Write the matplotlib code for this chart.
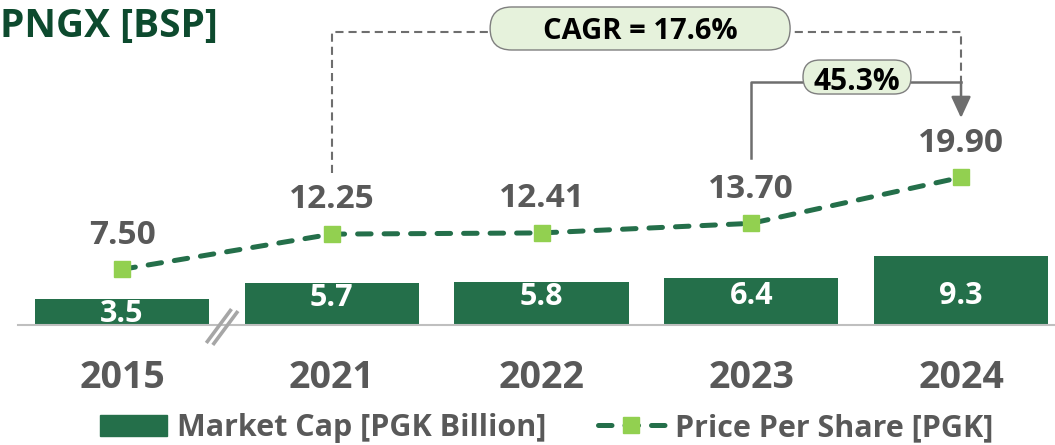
import numpy as np
import matplotlib
matplotlib.use("Agg")
import matplotlib.pyplot as plt
import matplotlib.transforms as mtransforms
from matplotlib.patches import Patch, FancyBboxPatch
from matplotlib.lines import Line2D

# ---------------- data ----------------
years = ["2015", "2021", "2022", "2023", "2024"]
market_cap = [3.5, 5.7, 5.8, 6.4, 9.3]          # PGK billion
price_per_share = [7.50, 12.25, 12.41, 13.70, 19.90]  # PGK
cagr_text = "CAGR = 17.6%"
growth_text = "45.3%"
title_text = "PNGX [BSP]"
legend_labels = ["Market Cap [PGK Billion]", "Price Per Share [PGK]"]

# ---------------- style ----------------
plt.rcParams["font.family"] = ["Open Sans", "DejaVu Sans"]
BAR = "#246F4A"
LIGHT = "#92D050"
GRAY = "#595959"
LINEGRAY = "#6E6E6E"
TITLE = "#0D4A2E"
PILL = "#E6F2DC"

W, H = 1055, 445
fig = plt.figure(figsize=(W / 100, H / 100), dpi=100)
ax = fig.add_axes([18 / W, 120 / H, 1 - 18 / W, 325 / H])
ax.patch.set_visible(False)

x = np.arange(len(years))
ax.bar(x, market_cap, width=0.83, color=BAR, zorder=2)
ax.plot(x, price_per_share, color=BAR, lw=3.6, ls=(0, (2.7, 2.6)),
        dash_capstyle="round", marker="s", ms=11, mfc=LIGHT, mec=LIGHT,
        zorder=4)

ax.set_xlim(-0.496, 4.448)
ax.set_ylim(0, 43.8)
ax.set_xticks([])
ax.set_yticks([])
for s in ["top", "right", "left"]:
    ax.spines[s].set_visible(False)
ax.spines["bottom"].set_color("#BFBFBF")
ax.spines["bottom"].set_linewidth(1.5)

# value labels for price
for i, v in enumerate(price_per_share):
    ax.annotate(f"{v:.2f}", (i, v), xytext=(0, 18.5), textcoords="offset points",
                ha="center", va="baseline", fontsize=24, fontweight="bold",
                color=GRAY, zorder=5)

# value labels inside bars
for i, v in enumerate(market_cap):
    ax.text(i, min(v, 5.95) - 3.1, f"{v:.1f}", ha="center", va="baseline",
            fontsize=22, fontweight="bold", color="white", zorder=3)

# year labels
for i, yr in enumerate(years):
    ax.annotate(yr, (i, 0), xytext=(0, -45.4), textcoords="offset points",
                ha="center", va="baseline", fontsize=27, fontweight="bold",
                color=GRAY, annotation_clip=False)

# axis break mark between 2015 and 2021
brk = fig.dpi_scale_trans + mtransforms.ScaledTranslation(0.476, 0, ax.transData)
for (x0, y0, x1, y1) in [(-14.5, -16.5, 8.5, 14.5), (-8.0, -18.5, 15.0, 12.5)]:
    ax.add_line(Line2D([x0 / 100, x1 / 100], [y0 / 100, y1 / 100],
                       transform=brk, color="#A6A6A6", lw=2.6,
                       clip_on=False, zorder=6))

# CAGR bracket (dashed) and growth bracket (solid with arrow)
ax.plot([1, 1, 4, 4], [20.5, 39.49, 39.49, 32.75], color=LINEGRAY, lw=1.5,
        ls=(0, (3.9, 2.4)), zorder=1, clip_on=False)
ax.plot([3, 3, 4], [22.5, 32.75, 32.75], color=LINEGRAY, lw=1.8,
        zorder=1, clip_on=False)
ax.annotate("", xy=(4, 27.9), xytext=(4, 32.75),
            arrowprops=dict(arrowstyle="-|>,head_length=1.3,head_width=0.6",
                            color=LINEGRAY, lw=1.8, shrinkA=0, shrinkB=0))


def pill(xc, yc, w_px, h_px, text, fs, base_off_px):
    tr = fig.dpi_scale_trans + mtransforms.ScaledTranslation(xc, yc, ax.transData)
    w, h = w_px / 100, h_px / 100
    p = FancyBboxPatch((-w / 2, -h / 2), w, h,
                       boxstyle=f"round,pad=0,rounding_size={h / 2}",
                       transform=tr, fc=PILL, ec="#7F7F7F", lw=1.0,
                       clip_on=False, zorder=7)
    ax.add_artist(p)
    ax.annotate(text, (xc, yc), xytext=(0, -base_off_px * 0.72),
                textcoords="offset points", ha="center", va="baseline",
                fontsize=fs, fontweight="bold", color="black", zorder=8,
                annotation_clip=False)


pill(2.47, 39.96, 300, 43, cagr_text, 21, 10.5)
pill(3.504, 33.42, 108, 34, growth_text, 21.5, 12.5)

# title
fig.text(0.0, 1 - 37 / H, title_text, ha="left", va="baseline", fontsize=28,
         fontweight="bold", color=TITLE)

# legend
handles = [
    Patch(facecolor=BAR, edgecolor=BAR),
    Line2D([], [], color=BAR, lw=3.6, ls=(0, (2.7, 2.6)), dash_capstyle="round",
           marker="s", ms=11, mfc=LIGHT, mec=LIGHT),
]
leg = fig.legend(handles, legend_labels, ncol=2, loc="center",
                 bbox_to_anchor=(546.5 / W, 17 / H), frameon=False,
                 prop={"size": 22, "weight": "bold"}, labelcolor=GRAY,
                 handlelength=2.18, handletextpad=0.33, columnspacing=1.7,
                 borderpad=0, numpoints=1)

fig.savefig("out.png", dpi=100)
